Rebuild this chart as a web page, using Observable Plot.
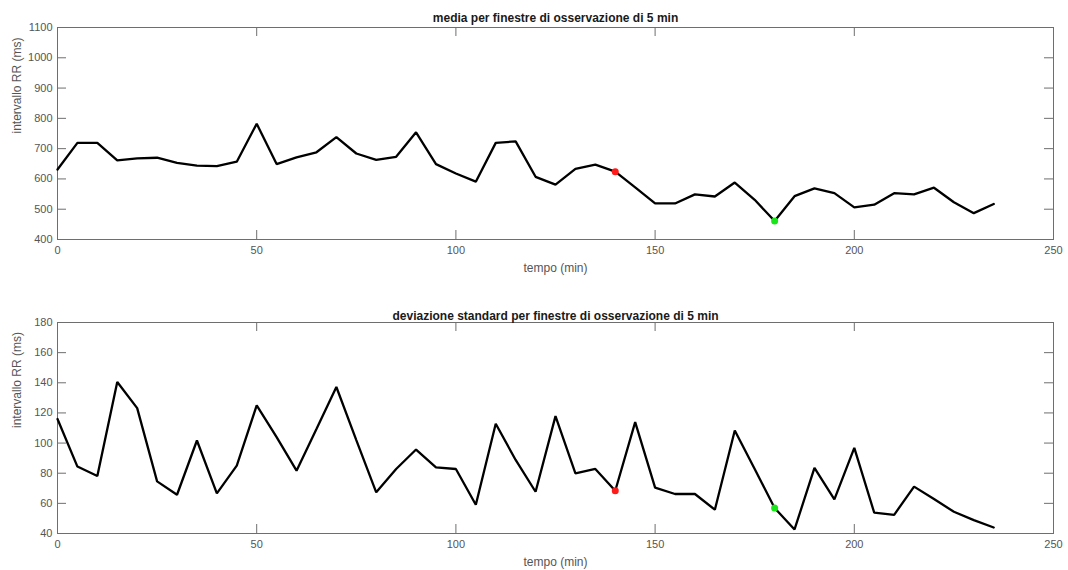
<!DOCTYPE html>
<html>
<head>
<meta charset="utf-8">
<script src="https://cdn.jsdelivr.net/npm/d3@7"></script>
<script src="https://cdn.jsdelivr.net/npm/@observablehq/plot@0.6"></script>
<style>
  html, body { margin: 0; padding: 0; background: #fff; }
  #chart { width: 1068px; height: 570px; position: relative; }
  #chart svg { display: block; }
</style>
</head>
<body>
<div id="chart"></div>
<script>
// ---- data ----
const tempo = [0,5,10,15,20,25,30,35,40,45,50,55,60,65,70,75,80,85,90,95,100,105,110,115,120,125,130,135,140,145,150,155,160,165,170,175,180,185,190,195,200,205,210,215,220,225,230,235];
const media = [631,719,719,661,668,670,653,644,642,657,782,649,671,688,738,684,663,673,754,649,618,591,719,724,607,581,633,647,624,572,519,519,549,542,588,531,461,543,569,553,506,515,553,549,571,523,487,517];
const devStd = [116,84.4,78.2,140.5,123.2,74.6,65.7,101.7,66.6,85,125,103.9,81.7,109.4,137.2,102,67.3,82.8,95.7,83.9,82.8,59.1,112.8,88.8,67.7,117.9,79.9,82.8,68.4,113.9,70.4,66.2,66.2,55.8,108.3,82.8,56.9,42.7,83.5,62.6,96.8,53.8,52.4,71.1,62.9,54.4,48.9,44];
const markerTimes = [140, 180];
const markerColors = ["#ff1a1a", "#19e619"];
const xTicks = [0, 50, 100, 150, 200, 250];
const yTicksTop = [400, 500, 600, 700, 800, 900, 1000, 1100];
const yTicksBottom = [40, 60, 80, 100, 120, 140, 160, 180];
const titles = ["media per finestre di osservazione di 5 min", "deviazione standard per finestre di osservazione di 5 min"];
const xLabel = "tempo (min)";
const yLabel = "intervallo RR (ms)";

const W = 1068;
const font = "'Liberation Sans', Arial, Helvetica, sans-serif";

function panel(values, yDomain, yTicks, title, H, mTop, mBottom, titleDy) {
  const mLeft = 57, mRight = 15;
  const pw = W - mLeft - mRight, ph = H - mTop - mBottom;
  const rows = tempo.map((t, i) => ({t, v: values[i]}));
  const marks = markerTimes.map((t, i) => ({t, v: values[tempo.indexOf(t)], c: markerColors[i]}));
  const tickLen = 9;
  const tickColor = "#6e6e6e";
  return Plot.plot({
    width: W, height: H,
    marginLeft: mLeft, marginRight: mRight, marginTop: mTop, marginBottom: mBottom,
    style: {fontFamily: font, fontSize: "11px", color: "#555", background: "#fff"},
    x: {domain: [0, 250]},
    y: {domain: yDomain},
    marks: [
      Plot.frame({stroke: tickColor, strokeWidth: 1}),
      // inward ticks on all four sides
      Plot.tickX(xTicks, {x: d => d, stroke: tickColor, insetTop: ph - tickLen}),
      Plot.tickX(xTicks, {x: d => d, stroke: tickColor, insetBottom: ph - tickLen}),
      Plot.tickY(yTicks, {y: d => d, stroke: tickColor, insetRight: pw - tickLen}),
      Plot.tickY(yTicks, {y: d => d, stroke: tickColor, insetLeft: pw - tickLen}),
      Plot.axisX(xTicks, {tickSize: 0, tickPadding: 7, label: null, fill: "#555", fontSize: 11, tickFormat: d => String(d)}),
      Plot.axisY(yTicks, {tickSize: 0, tickPadding: 5, label: null, fill: "#555", fontSize: 11, tickFormat: d => String(d)}),
      Plot.line(rows, {x: "t", y: "v", stroke: "#000", strokeWidth: 2.3, strokeLinejoin: "miter"}),
      Plot.dot(marks, {x: "t", y: "v", fill: "c", r: 3.5, stroke: null}),
      Plot.text([title], {text: d => d, frameAnchor: "top", lineAnchor: "middle", dy: titleDy, fontWeight: "bold", fontSize: 12, fill: "#1a1a1a"}),
      Plot.text([xLabel], {text: d => d, frameAnchor: "bottom", lineAnchor: "middle", dy: 29, fontSize: 12, fill: "#555"}),
      Plot.text([yLabel], {text: d => d, frameAnchor: "left", dx: -40, rotate: -90, fontSize: 12, fill: "#555"})
    ]
  });
}

const root = document.getElementById("chart");
root.appendChild(panel(media, [400, 1100], yTicksTop, titles[0], 285, 27, 46, -9));
root.appendChild(panel(devStd, [40, 180], yTicksBottom, titles[1], 285, 37, 37, -6));
</script>
</body>
</html>
